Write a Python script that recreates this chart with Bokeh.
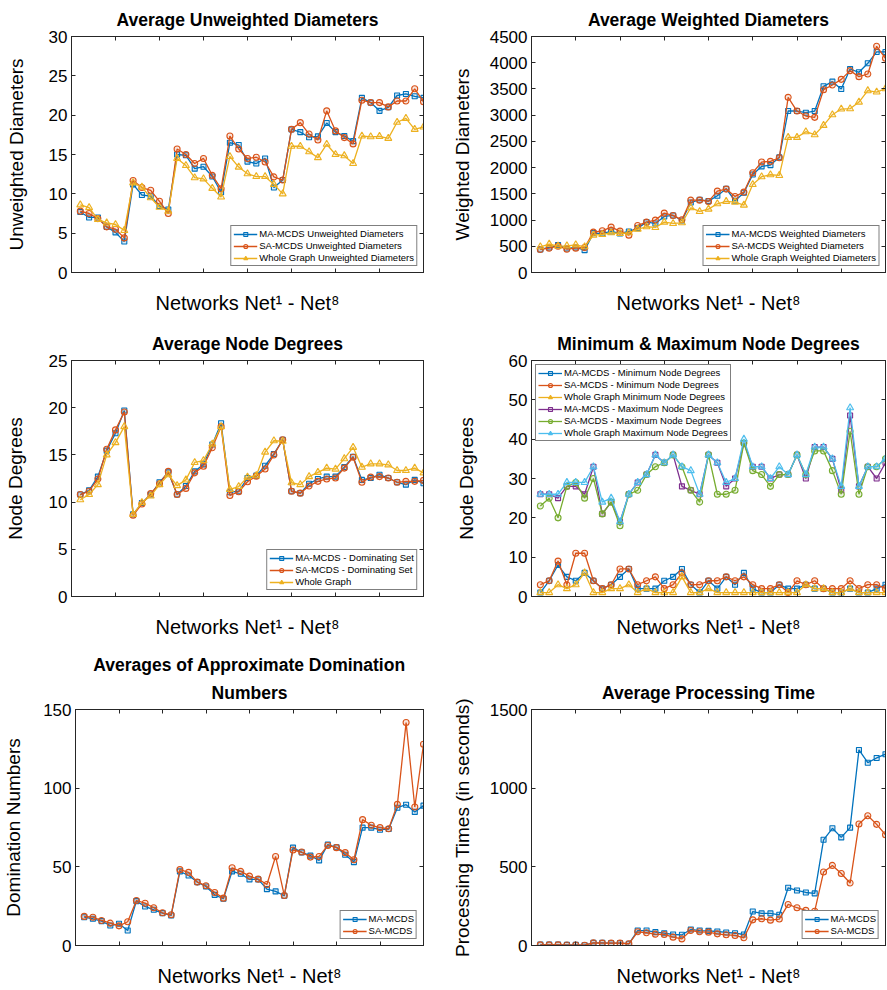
from bokeh.plotting import figure
from bokeh.layouts import column, row
from bokeh.models import LinearAxis, FixedTicker, Range1d, Legend, LegendItem, Title
from bokeh.embed import file_html
from bokeh.resources import INLINE

x = list(range(1, 41))
x_ticks = [0, 5, 10, 15, 20, 25, 30, 35, 40]

# Average unweighted diameters
ma_unw = [7.7, 7.0, 7.0, 5.8, 5.1, 3.95, 11.2, 9.85, 9.7, 8.45, 8.0, 15.0, 14.9, 13.2, 13.45, 12.2, 10.2,
          16.5, 16.2, 14.1, 13.85, 14.5, 10.8, 11.75, 18.2, 17.85, 17.2, 17.3, 19.0, 17.85, 17.35, 16.7,
          22.2, 21.6, 20.55, 21.0, 22.5, 22.7, 22.4, 22.2]
sa_unw = [7.8, 7.5, 6.85, 5.8, 5.5, 4.4, 11.7, 10.8, 10.45, 9.05, 7.5, 15.7, 15.0, 13.85, 14.5, 12.35, 10.65,
          17.35, 15.7, 14.5, 14.65, 14.05, 12.15, 11.75, 18.2, 19.05, 17.6, 16.85, 20.55, 18.0, 17.15, 16.35,
          21.9, 21.6, 21.6, 21.05, 21.8, 21.8, 23.35, 21.7]
wg_unw = [8.6, 8.25, 6.75, 6.3, 6.1, 5.35, 11.4, 10.85, 9.5, 8.3, 7.8, 14.5, 13.6, 12.05, 11.9, 10.7, 9.6,
          14.75, 13.4, 12.55, 12.2, 12.2, 11.2, 10.0, 16.05, 16.05, 15.35, 14.6, 16.3, 15.0, 14.85, 13.85,
          17.35, 17.25, 17.3, 17.05, 19.1, 19.6, 18.2, 18.5]

# Average weighted diameters
ma_w = [439, 477, 522, 458, 477, 426, 751, 744, 782, 744, 782, 846, 960, 935, 1069, 1088, 992, 1336, 1387,
        1361, 1463, 1597, 1368, 1520, 1870, 2023, 2048, 2195, 3079, 3079, 3047, 3079, 3550, 3639, 3499, 3880,
        3817, 3989, 4205, 4205]
sa_w = [439, 464, 502, 445, 464, 477, 770, 795, 865, 789, 712, 897, 960, 999, 1132, 1088, 1005, 1380, 1380,
        1355, 1552, 1590, 1450, 1533, 1902, 2106, 2118, 2188, 3340, 3079, 2983, 2958, 3486, 3575, 3683, 3849,
        3734, 3785, 4313, 4084]
wg_w = [490, 541, 502, 509, 528, 490, 712, 725, 757, 744, 757, 827, 872, 859, 960, 935, 948, 1234, 1164,
        1209, 1310, 1355, 1342, 1285, 1679, 1826, 1864, 1851, 2576, 2576, 2684, 2627, 2805, 3009, 3117, 3123,
        3250, 3467, 3441, 3505]

# Average node degrees
ma_deg = [10.8, 11.25, 12.7, 15.45, 17.3, 19.7, 8.7, 9.9, 10.8, 12.1, 13.15, 10.8, 11.7, 13.25, 14.0, 16.1,
          18.35, 11.05, 11.15, 12.55, 12.8, 13.85, 15.1, 16.6, 11.15, 10.95, 11.95, 12.45, 12.7, 12.7, 13.7,
          14.8, 12.35, 12.55, 12.9, 12.55, 12.1, 11.85, 12.35, 12.0]
sa_deg = [10.8, 11.15, 12.45, 15.6, 17.65, 19.55, 8.6, 9.8, 10.9, 11.95, 13.25, 10.8, 11.45, 13.1, 13.8,
          15.75, 18.0, 10.7, 11.1, 12.15, 12.75, 13.5, 15.0, 16.6, 11.15, 10.95, 11.7, 12.2, 12.45, 12.55,
          13.6, 14.75, 12.1, 12.65, 12.7, 12.55, 12.1, 12.2, 12.2, 12.3]
wg_deg = [10.25, 10.8, 11.85, 15.0, 16.3, 18.0, 8.7, 9.95, 10.65, 11.85, 12.9, 11.75, 12.35, 14.2, 14.4,
          16.15, 18.0, 11.35, 11.65, 12.65, 12.8, 15.3, 16.5, 16.45, 12.05, 11.85, 12.7, 13.15, 13.6, 13.5,
          14.6, 15.8, 13.7, 14.05, 14.05, 13.95, 13.35, 13.35, 13.6, 13.1]

# Minimum & maximum node degrees
ma_min = [1, 4, 8, 5, 4, 6, 4, 2, 3, 5, 7, 2, 2, 2, 4, 5, 7, 3, 1, 4, 2, 5, 3, 6, 2, 1, 1, 3, 2, 2,
          3, 2, 2, 1, 1, 2, 1, 1, 2, 3]
sa_min = [3, 4, 9, 3, 11, 11, 4, 2, 3, 7, 7, 3, 4, 5, 2, 3, 6, 3, 3, 4, 4, 5, 4, 5, 3, 2, 2, 3, 1, 4,
          3, 4, 2, 2, 2, 4, 2, 3, 3, 2]
wg_min = [1, 1, 3, 2, 3, 6, 1, 1, 2, 2, 3, 1, 2, 1, 1, 1, 5, 1, 1, 2, 1, 1, 1, 1, 1, 1, 1, 1, 1, 1,
          3, 2, 2, 1, 1, 2, 1, 1, 1, 1]
ma_max = [26, 26, 25, 28, 28, 26, 33, 21, 24, 19, 26, 29, 31, 36, 34, 36, 28, 27, 26, 36, 34, 28, 30, 39,
          33, 33, 30, 31, 31, 36, 30, 38, 38, 35, 27, 46, 28, 33, 30, 34]
sa_max = [23, 25, 20, 28, 29, 25, 30, 21, 24, 18, 26, 27, 31, 33, 34, 36, 33, 27, 24, 36, 26, 26, 27, 39,
          32, 31, 28, 31, 31, 36, 31, 37, 37, 32, 26, 42, 26, 33, 33, 35]
wg_max = [26, 26, 26, 29, 29, 29, 33, 24, 25, 19, 26, 29, 31, 36, 34, 36, 33, 32, 26, 36, 34, 29, 30, 40,
          33, 33, 30, 33, 31, 36, 31, 38, 38, 35, 28, 48, 28, 33, 33, 35]

# Domination numbers
ma_dom = [18.0, 17.0, 15.5, 12.7, 13.8, 9.5, 28.2, 24.8, 22.7, 20.6, 19.1, 47.1, 44.5, 40.3, 37.5, 32.2,
          29.7, 47.1, 45.6, 42.0, 42.0, 35.8, 34.4, 31.6, 62.2, 59.2, 57.1, 54.1, 64.1, 62.4, 57.7, 53.0,
          74.9, 74.9, 73.6, 74.0, 87.6, 89.5, 84.9, 88.9]
sa_dom = [18.5, 18.0, 15.9, 14.2, 12.5, 15.1, 28.6, 26.9, 24.0, 20.8, 19.5, 48.2, 46.5, 40.3, 38.0, 33.7,
          30.1, 49.4, 47.1, 44.1, 42.2, 38.8, 56.6, 31.8, 60.7, 59.4, 56.2, 56.6, 63.6, 62.2, 59.0, 54.5,
          80.0, 76.4, 74.9, 74.2, 89.7, 141.7, 88.0, 127.9]

# Processing time (seconds)
ma_time = [6, 6, 6, 4, 4, 2, 17, 17, 15, 15, 11, 95, 95, 85, 78, 70, 68, 102, 95, 93, 89, 83, 78, 70,
           216, 204, 204, 195, 367, 350, 337, 331, 672, 745, 687, 749, 1243, 1162, 1192, 1216]
sa_time = [4, 4, 4, 3, 3, 2, 17, 15, 15, 15, 11, 87, 81, 72, 70, 53, 42, 95, 87, 85, 74, 68, 64, 49,
           163, 170, 161, 168, 261, 240, 223, 218, 467, 509, 458, 397, 772, 825, 770, 704]

BLUE, RED, YEL = "#0072BD", "#D95319", "#EDB120"
PUR, GRN, CYA = "#7E2F8E", "#77AC30", "#4DBEEE"
FONT = "Liberation Sans"
AX = "#262626"
XLABEL = "Networks Net\u00b9 - Net\u2078"


def make_fig(titles, ylabel, ymax, yticks, width, height, bl, br, bt, bb, label_standoff):
    p = figure(width=width, height=height, x_range=Range1d(0, 40), y_range=Range1d(0, ymax),
               output_backend="svg", toolbar_location=None, title=None,
               min_border_left=bl, min_border_right=br, min_border_top=bt, min_border_bottom=bb)
    p.grid.visible = False
    p.background_fill_color = "white"
    p.border_fill_color = "white"
    p.outline_line_color = AX
    p.outline_line_width = 1

    xa = p.xaxis[0]
    xa.ticker = FixedTicker(ticks=x_ticks)
    xa.major_label_overrides = {t: "" for t in x_ticks}
    xa.axis_label = XLABEL
    xa.axis_label_text_font = FONT
    xa.axis_label_text_font_size = "20px"
    xa.axis_label_text_font_style = "normal"
    xa.axis_label_text_color = "black"
    xa.axis_label_standoff = 19

    ya = p.yaxis[0]
    ya.ticker = FixedTicker(ticks=yticks)
    ya.axis_label = ylabel
    ya.axis_label_text_font = FONT
    ya.axis_label_text_font_size = "19px"
    ya.axis_label_text_font_style = "normal"
    ya.axis_label_text_color = "black"
    ya.axis_label_standoff = label_standoff
    ya.major_label_text_font = FONT
    ya.major_label_text_font_size = "17px"
    ya.major_label_text_color = "black"
    ya.major_label_standoff = 4

    top = LinearAxis(ticker=FixedTicker(ticks=x_ticks), major_label_overrides={t: "" for t in x_ticks})
    right = LinearAxis(ticker=FixedTicker(ticks=yticks), major_label_overrides={t: "" for t in yticks})
    p.add_layout(top, "above")
    p.add_layout(right, "right")
    for ax in (xa, ya, top, right):
        ax.axis_line_color = AX
        ax.major_tick_line_color = AX
        ax.major_tick_in = 4
        ax.major_tick_out = 0
        ax.minor_tick_line_color = None
    for ax in (top, right):
        ax.major_label_standoff = 0
        ax.major_label_text_font_size = "1px"

    # titles: first entry is the line nearest the frame
    for i, t in enumerate(titles):
        tt = Title(text=t, align="center", text_font=FONT, text_font_style="bold",
                   text_font_size="17.5px", text_color="black", standoff=13 if i == 0 else 0)
        p.add_layout(tt, "above")
    return p


def add_series(p, ys, color, marker, size):
    l = p.line(x, ys, line_color=color, line_width=1.3)
    s = p.scatter(x, ys, marker=marker, size=size, line_color=color, fill_color=color,
                  fill_alpha=0.15, line_width=1.1)
    return [l, s]


def add_legend(p, items, location, margin):
    lg = Legend(items=[LegendItem(label=lab, renderers=r) for lab, r in items], location=location)
    lg.label_text_font = FONT
    lg.label_text_font_size = "9.5px"
    lg.label_text_color = "black"
    lg.label_height = 10
    lg.glyph_height = 10
    lg.glyph_width = 24
    lg.label_standoff = 2
    lg.spacing = 1
    lg.padding = 2
    lg.margin = margin
    lg.border_line_color = "black"
    lg.border_line_width = 1
    lg.background_fill_alpha = 1
    p.add_layout(lg)


# Top-left
p1 = make_fig(["Average Unweighted Diameters"], "Unweighted Diameters", 30, [0, 5, 10, 15, 20, 25, 30],
              443, 325, 71, 20, 36, 53, 19)
r = [add_series(p1, ma_unw, BLUE, "square", 5),
     add_series(p1, sa_unw, RED, "circle", 6),
     add_series(p1, wg_unw, YEL, "triangle", 7)]
add_legend(p1, [("MA-MCDS Unweighted Diameters", r[0]), ("SA-MCDS Unweighted Diameters", r[1]),
                ("Whole Graph Unweighted Diameters", r[2])], "bottom_right", 6)

# Top-right
p2 = make_fig(["Average Weighted Diameters"], "Weighted Diameters", 4500, list(range(0, 4501, 500)),
              444, 325, 88, 2, 36, 53, 14)
r = [add_series(p2, ma_w, BLUE, "square", 5),
     add_series(p2, sa_w, RED, "circle", 6),
     add_series(p2, wg_w, YEL, "triangle", 7)]
add_legend(p2, [("MA-MCDS Weighted Diameters", r[0]), ("SA-MCDS Weighted Diameters", r[1]),
                ("Whole Graph Weighted Diameters", r[2])], "bottom_right", 6)

# Middle-left
p3 = make_fig(["Average Node Degrees"], "Node Degrees", 25, [0, 5, 10, 15, 20, 25],
              443, 325, 71, 20, 34, 54, 20)
r = [add_series(p3, ma_deg, BLUE, "square", 5),
     add_series(p3, sa_deg, RED, "circle", 6),
     add_series(p3, wg_deg, YEL, "triangle", 7)]
add_legend(p3, [("MA-MCDS - Dominating Set", r[0]), ("SA-MCDS - Dominating Set", r[1]),
                ("Whole Graph", r[2])], "bottom_right", 6)

# Middle-right
p4 = make_fig(["Minimum & Maximum Node Degrees"], "Node Degrees", 60, [0, 10, 20, 30, 40, 50, 60],
              444, 325, 88, 2, 34, 54, 29)
r = [add_series(p4, ma_min, BLUE, "square", 5),
     add_series(p4, sa_min, RED, "circle", 6),
     add_series(p4, wg_min, YEL, "triangle", 7),
     add_series(p4, ma_max, PUR, "square", 5),
     add_series(p4, sa_max, GRN, "circle", 6),
     add_series(p4, wg_max, CYA, "triangle", 7)]
add_legend(p4, [("MA-MCDS - Minimum Node Degrees", r[0]), ("SA-MCDS - Minimum Node Degrees", r[1]),
                ("Whole Graph Minimum Node Degrees", r[2]), ("MA-MCDS - Maximum Node Degrees", r[3]),
                ("SA-MCDS - Maximum Node Degrees", r[4]), ("Whole Graph Maximum Node Degrees", r[5])],
           "top_left", 4)

# Bottom-left
p5 = make_fig(["Numbers", "Averages of Approximate Domination"], "Domination Numbers", 150,
              [0, 50, 100, 150], 443, 340, 71, 20, 59, 45, 16)
r = [add_series(p5, ma_dom, BLUE, "square", 5),
     add_series(p5, sa_dom, RED, "circle", 6)]
add_legend(p5, [("MA-MCDS", r[0]), ("SA-MCDS", r[1])], "bottom_right", 6)

# Bottom-right
p6 = make_fig(["Average Processing Time"], "Processing Times (in seconds)", 1500, [0, 500, 1000, 1500],
              444, 340, 88, 2, 59, 45, 14)
r = [add_series(p6, ma_time, BLUE, "square", 5),
     add_series(p6, sa_time, RED, "circle", 6)]
add_legend(p6, [("MA-MCDS", r[0]), ("SA-MCDS", r[1])], "bottom_right", 6)

layout = column(row(p1, p2), row(p3, p4), row(p5, p6), spacing=0)
layout.styles = {"margin": "0"}

open("out.html", "w").write(file_html(layout, INLINE))
